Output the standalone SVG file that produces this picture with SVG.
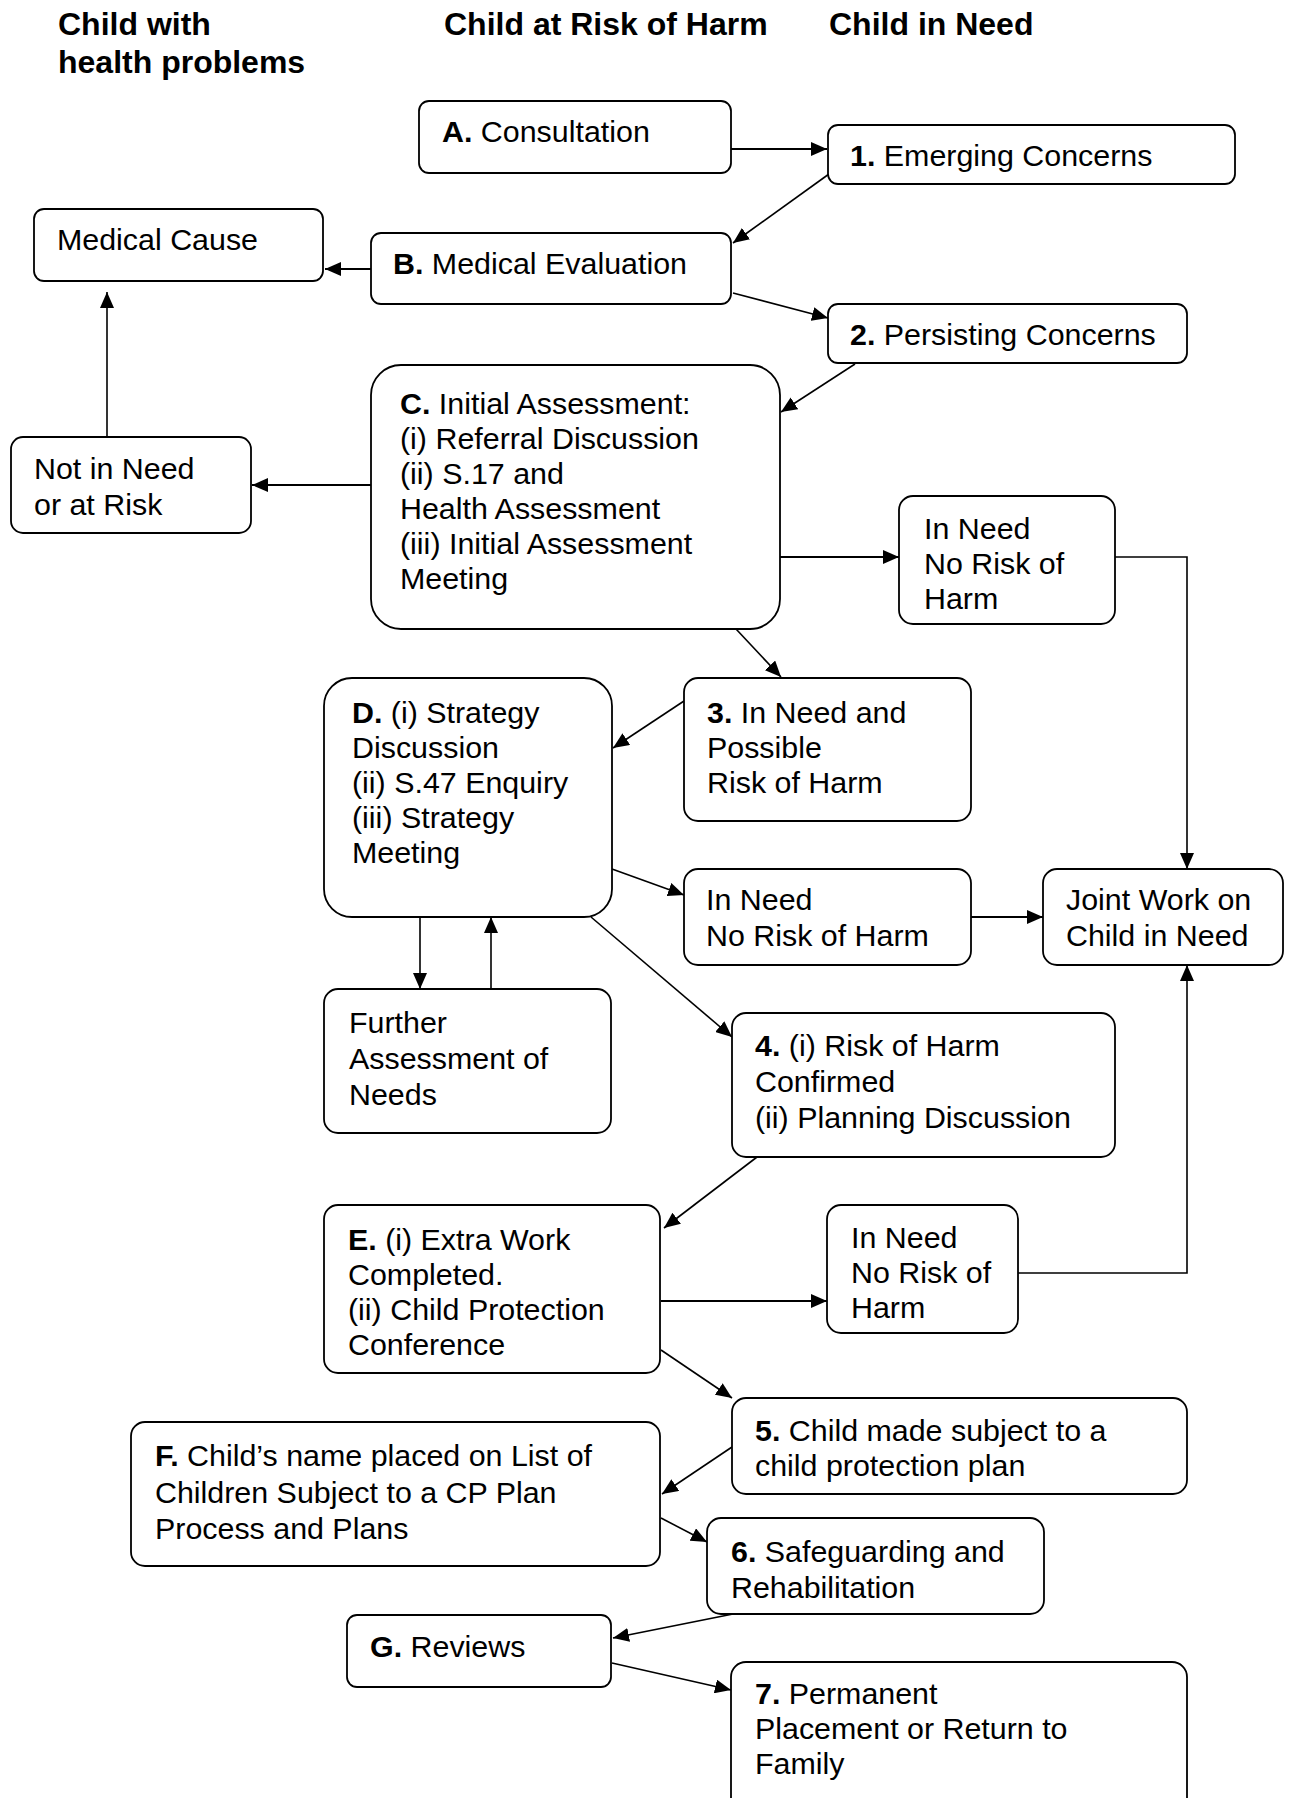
<svg xmlns="http://www.w3.org/2000/svg" width="1290" height="1798" viewBox="0 0 1290 1798">
<style>
.box{fill:#fff;stroke:#000;stroke-width:1.8}
.t{font-family:"Liberation Sans",Arial,sans-serif;font-size:30.4px;fill:#000}
.h{font-family:"Liberation Sans",Arial,sans-serif;font-size:32px;font-weight:bold;fill:#000}
.b{font-weight:bold}
.c{stroke:#000;stroke-width:1.6;fill:none;marker-end:url(#ah)}
.c2{stroke:#000;stroke-width:2.2;fill:none;marker-end:url(#ah)}
</style>
<defs>
<marker id="ah" markerUnits="userSpaceOnUse" markerWidth="16" markerHeight="14" refX="16" refY="7" orient="auto">
<path d="M0,0 L16,7 L0,14 z" fill="#000"/>
</marker>
</defs>
<rect width="1290" height="1798" fill="#fff"/>
<g id="headers">
<text class="h" x="58" y="35">Child with</text>
<text class="h" x="58" y="73">health problems</text>
<text class="h" x="444" y="35">Child at Risk of Harm</text>
<text class="h" x="829" y="35">Child in Need</text>
</g>
<g id="connectors">
<line class="c2" x1="731" y1="149" x2="827" y2="149"/>
<line class="c" x1="829" y1="174" x2="733" y2="243"/>
<line class="c2" x1="371" y1="269" x2="325" y2="269"/>
<line class="c" x1="733" y1="293" x2="828" y2="318"/>
<line class="c" x1="855" y1="364" x2="781" y2="412"/>
<line class="c2" x1="371" y1="485" x2="252" y2="485"/>
<line class="c" x1="107" y1="437" x2="107" y2="292"/>
<line class="c2" x1="780" y1="557" x2="899" y2="557"/>
<polyline class="c" points="1115,557 1187,557 1187,869"/>
<line class="c" x1="736" y1="629" x2="781" y2="677"/>
<line class="c" x1="684" y1="701" x2="613" y2="748"/>
<line class="c" x1="612" y1="869" x2="684" y2="895"/>
<line class="c2" x1="971" y1="917" x2="1043" y2="917"/>
<line class="c" x1="420" y1="917" x2="420" y2="989"/>
<line class="c" x1="491" y1="989" x2="491" y2="917"/>
<line class="c" x1="591" y1="917" x2="732" y2="1037"/>
<line class="c" x1="757" y1="1157" x2="664" y2="1228"/>
<polyline class="c" points="1018,1273 1187,1273 1187,965"/>
<line class="c2" x1="661" y1="1301" x2="827" y2="1301"/>
<line class="c" x1="661" y1="1350" x2="732" y2="1398"/>
<line class="c" x1="732" y1="1447" x2="662" y2="1494"/>
<line class="c" x1="661" y1="1518" x2="707" y2="1542"/>
<line class="c" x1="733" y1="1614" x2="613" y2="1638"/>
<line class="c" x1="612" y1="1663" x2="731" y2="1690"/>
</g>
<g id="nA"><rect class="box" x="419" y="101" width="312" height="72" rx="10"/><text class="t" x="442" y="142"><tspan class="b">A.</tspan> Consultation</text></g>
<g id="n1"><rect class="box" x="828" y="125" width="407" height="59" rx="10"/><text class="t" x="850" y="166"><tspan class="b">1.</tspan> Emerging Concerns</text></g>
<g id="nMed"><rect class="box" x="34" y="209" width="289" height="72" rx="10"/><text class="t" x="57" y="250">Medical Cause</text></g>
<g id="nB"><rect class="box" x="371" y="233" width="360" height="71" rx="10"/><text class="t" x="393" y="274"><tspan class="b">B.</tspan> Medical Evaluation</text></g>
<g id="n2"><rect class="box" x="828" y="304" width="359" height="59" rx="10"/><text class="t" x="850" y="345"><tspan class="b">2.</tspan> Persisting Concerns</text></g>
<g id="nC"><rect class="box" x="371" y="365" width="409" height="264" rx="30"/>
<text class="t" x="400" y="414"><tspan class="b">C.</tspan> Initial Assessment:</text>
<text class="t" x="400" y="449">(i) Referral Discussion</text>
<text class="t" x="400" y="484">(ii) S.17 and</text>
<text class="t" x="400" y="519">Health Assessment</text>
<text class="t" x="400" y="554">(iii) Initial Assessment</text>
<text class="t" x="400" y="589">Meeting</text></g>
<g id="nNot"><rect class="box" x="11" y="437" width="240" height="96" rx="12"/>
<text class="t" x="34" y="479">Not in Need</text>
<text class="t" x="34" y="515">or at Risk</text></g>
<g id="nNeed1"><rect class="box" x="899" y="496" width="216" height="128" rx="14"/>
<text class="t" x="924" y="539">In Need</text>
<text class="t" x="924" y="574">No Risk of</text>
<text class="t" x="924" y="609">Harm</text></g>
<g id="nD"><rect class="box" x="324" y="678" width="288" height="239" rx="28"/>
<text class="t" x="352" y="723"><tspan class="b">D.</tspan> (i) Strategy</text>
<text class="t" x="352" y="758">Discussion</text>
<text class="t" x="352" y="793">(ii) S.47 Enquiry</text>
<text class="t" x="352" y="828">(iii) Strategy</text>
<text class="t" x="352" y="863">Meeting</text></g>
<g id="n3"><rect class="box" x="684" y="678" width="287" height="143" rx="14"/>
<text class="t" x="707" y="723"><tspan class="b">3.</tspan> In Need and</text>
<text class="t" x="707" y="758">Possible</text>
<text class="t" x="707" y="793">Risk of Harm</text></g>
<g id="nNeed2"><rect class="box" x="684" y="869" width="287" height="96" rx="14"/>
<text class="t" x="706" y="910">In Need</text>
<text class="t" x="706" y="946">No Risk of Harm</text></g>
<g id="nJoint"><rect class="box" x="1043" y="869" width="240" height="96" rx="14"/>
<text class="t" x="1066" y="910">Joint Work on</text>
<text class="t" x="1066" y="946">Child in Need</text></g>
<g id="nFurther"><rect class="box" x="324" y="989" width="287" height="144" rx="14"/>
<text class="t" x="349" y="1033">Further</text>
<text class="t" x="349" y="1069">Assessment of</text>
<text class="t" x="349" y="1105">Needs</text></g>
<g id="n4"><rect class="box" x="732" y="1013" width="383" height="144" rx="14"/>
<text class="t" x="755" y="1056"><tspan class="b">4.</tspan> (i) Risk of Harm</text>
<text class="t" x="755" y="1092">Confirmed</text>
<text class="t" x="755" y="1128">(ii) Planning Discussion</text></g>
<g id="nE"><rect class="box" x="324" y="1205" width="336" height="168" rx="14"/>
<text class="t" x="348" y="1250"><tspan class="b">E.</tspan> (i) Extra Work</text>
<text class="t" x="348" y="1285">Completed.</text>
<text class="t" x="348" y="1320">(ii) Child Protection</text>
<text class="t" x="348" y="1355">Conference</text></g>
<g id="nNeed3"><rect class="box" x="827" y="1205" width="191" height="128" rx="14"/>
<text class="t" x="851" y="1248">In Need</text>
<text class="t" x="851" y="1283">No Risk of</text>
<text class="t" x="851" y="1318">Harm</text></g>
<g id="n5"><rect class="box" x="732" y="1398" width="455" height="96" rx="14"/>
<text class="t" x="755" y="1441"><tspan class="b">5.</tspan> Child made subject to a</text>
<text class="t" x="755" y="1476">child protection plan</text></g>
<g id="nF"><rect class="box" x="131" y="1422" width="529" height="144" rx="14"/>
<text class="t" x="155" y="1466"><tspan class="b">F.</tspan> Child’s name placed on List of</text>
<text class="t" x="155" y="1503">Children Subject to a CP Plan</text>
<text class="t" x="155" y="1539">Process and Plans</text></g>
<g id="n6"><rect class="box" x="707" y="1518" width="337" height="96" rx="14"/>
<text class="t" x="731" y="1562"><tspan class="b">6.</tspan> Safeguarding and</text>
<text class="t" x="731" y="1598">Rehabilitation</text></g>
<g id="nG"><rect class="box" x="347" y="1615" width="264" height="72" rx="10"/>
<text class="t" x="370" y="1657"><tspan class="b">G.</tspan> Reviews</text></g>
<g id="n7"><rect class="box" x="731" y="1662" width="456" height="170" rx="15"/>
<text class="t" x="755" y="1704"><tspan class="b">7.</tspan> Permanent</text>
<text class="t" x="755" y="1739">Placement or Return to</text>
<text class="t" x="755" y="1774">Family</text></g>
</svg>
